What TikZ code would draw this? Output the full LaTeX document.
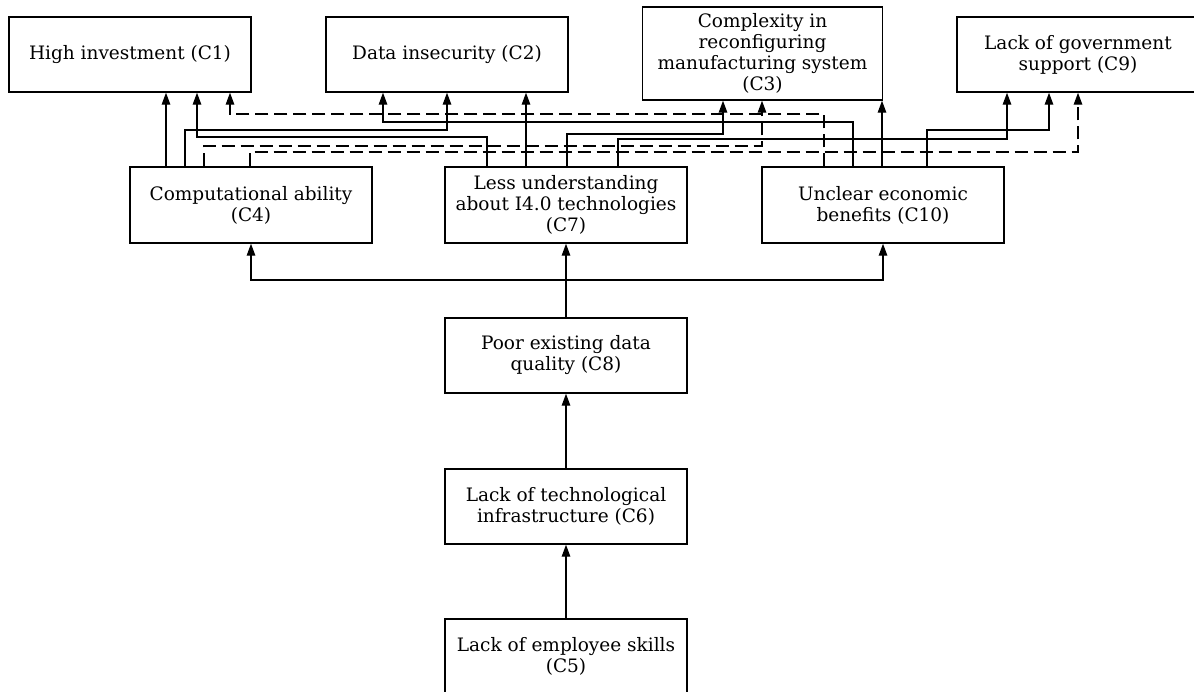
\documentclass[tikz,border=0pt]{standalone}
\usepackage{fontspec}
\setmainfont{DejaVu Serif}
\usetikzlibrary{arrows.meta}
\begin{document}
\begin{tikzpicture}[x=1pt,y=-1pt,
  box/.style={draw, line width=1.4pt, minimum width=242pt, minimum height=75pt,
    align=center, inner sep=1pt, font=\fontsize{18.5}{21}\selectfont},
  link/.style={line width=1.4pt, -{Triangle[length=12pt,width=8.5pt]}},
  dlink/.style={link, dash pattern=on 13pt off 6pt}]
\useasboundingbox (0,0) rectangle (1194,691);
% top row
\node[box] (C1) at (130,54.5) {High investment (C1)};
\node[box] (C2) at (447,54.5) {Data insecurity (C2)};
\node[box, minimum width=240pt, minimum height=93pt] (C3) at (762.5,53.5)
  {Complexity in\\reconfiguring\\manufacturing system\\(C3)};
\node[box] (C9) at (1078,54.5) {Lack of government\\support (C9)};
% middle row
\node[box, minimum height=76pt] (C4) at (251,205) {Computational ability\\(C4)};
\node[box, minimum height=76pt] (C7) at (566,205) {Less understanding\\about I4.0 technologies\\(C7)};
\node[box, minimum height=76pt] (C10) at (883,205) {Unclear economic\\benefits (C10)};
% chain
\node[box] (C8) at (566,355.5) {Poor existing data\\quality (C8)};
\node[box] (C6) at (566,506.5) {Lack of technological\\infrastructure (C6)};
\node[box] (C5) at (566,656.5) {Lack of employee skills\\(C5)};
% lower connectors
\draw[link] (C5.north) -- (C6.south);
\draw[link] (C6.north) -- (C8.south);
\coordinate (J) at (566,280);
\draw[link] (C8.north) -- (C7.south);
\draw[link] (J) -| (C4.south);
\draw[link] (J) -| (C10.south);
% solid connectors to top row
\draw[link] (C4.north -| 166,0) -- (C1.south -| 166,0);
\draw[link] (C4.north -| 185,0) |- (447,130) -- (C2.south -| 447,0);
\draw[link] (C7.north -| 487,0) |- (197,137) -- (C1.south -| 197,0);
\draw[link] (C7.north -| 526,0) -- (C2.south -| 526,0);
\draw[link] (C7.north -| 567,0) |- (723,134) -- (C3.south -| 723,0);
\draw[link] (C7.north -| 618,0) |- (1007,139) -- (C9.south -| 1007,0);
\draw[link] (C10.north -| 853,0) |- (383,122) -- (C2.south -| 383,0);
\draw[link] (C10.north -| 882,0) -- (C3.south -| 882,0);
\draw[link] (C10.north -| 927,0) |- (1049,130) -- (C9.south -| 1049,0);
% dashed connectors
\draw[dlink] (C10.north -| 824,0) |- (230,114) -- (C1.south -| 230,0);
\draw[dlink] (C4.north -| 204,0) |- (762,146) -- (C3.south -| 762,0);
\draw[dlink] (C4.north -| 250,0) |- (1078,152) -- (C9.south -| 1078,0);
\end{tikzpicture}
\end{document}
